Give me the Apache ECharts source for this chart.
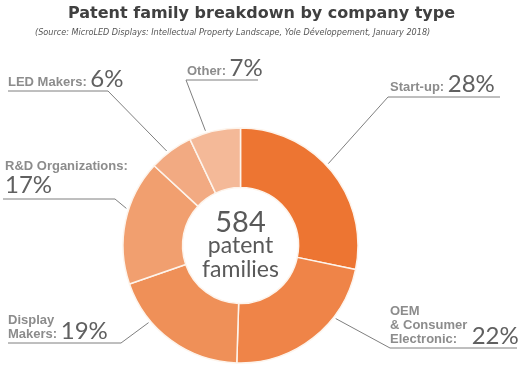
<!DOCTYPE html>
<html>
<head>
<meta charset="utf-8">
<script src="https://cdn.jsdelivr.net/npm/echarts@6/dist/echarts.min.js"></script>
<style>html,body{margin:0;padding:0;background:#fff;}#c{width:523px;height:369px;}</style>
</head>
<body>
<div id="c"></div>
<script>
// ---- data ----
const categories = ['Start-up', 'OEM & Consumer Electronic', 'Display Makers', 'R&D Organizations', 'LED Makers', 'Other'];
const values = [28, 22, 19, 17, 6, 7];
const labelNames = [['Start-up:'], ['OEM', '& Consumer', 'Electronic:'], ['Display', 'Makers:'], ['R&D Organizations:'], ['LED Makers:'], ['Other:']];
const totalFamilies = 584;
const centerLines = ['patent', 'families'];
const titleText = 'Patent family breakdown by company type';
const subtitleText = '(Source: MicroLED Displays: Intellectual Property Landscape, Yole Développement, January 2018)';

// ---- styles / layout ----
const colors = ['#ED7532', '#EF8448', '#EF9058', '#F19F6F', '#F2AA82', '#F4B998'];
const CX = 240.5, CY = 245.5, R0 = 58, R1 = 117.5;
const leaderAngle = [47, 127.5, 230, 288, 322, 343];
const leaderR = 120;
const spots = [
  {tx: 390, ty: 94, ex: 388, ey: 97, lx: 500, pctNewLine: false, gap: ' '},
  {tx: 390, ty: 346, ex: 390, ey: 348, lx: 517, pctNewLine: false, gap: '    '},
  {tx: 8, ty: 341, ex: 121, ey: 343, lx: 8, pctNewLine: false, gap: ' '},
  {tx: 5, ty: 197, ex: 115, ey: 199, lx: 3, pctNewLine: true, gap: ''},
  {tx: 8, ty: 89, ex: 108, ey: 91, lx: 8, pctNewLine: false, gap: ' '},
  {tx: 187, ty: 78, ex: 186, ey: 80, lx: 258, pctNewLine: false, gap: ' '}
];

const chart = echarts.init(document.getElementById('c'), null, {renderer: 'canvas'});

function labelText(i) {
  const names = labelNames[i];
  const s = spots[i];
  let lines = names.map(n => '{n|' + n + '}');
  if (s.pctNewLine) {
    lines.push('{q|' + values[i] + '%}');
  } else {
    lines[lines.length - 1] += '{n|' + s.gap + '}' + '{p|' + values[i] + '%}';
  }
  return lines.join('\n');
}

const option = {
  animation: false,
  backgroundColor: '#ffffff',
  title: [
    {
      text: titleText,
      left: 'center',
      top: 1,
      textStyle: {fontFamily: 'DejaVu Sans', fontWeight: 'bold', fontSize: 16, color: '#404040'}
    },
    {
      text: subtitleText,
      left: 30,
      top: 23,
      textStyle: {fontFamily: 'DejaVu Sans Condensed', fontStyle: 'italic', fontWeight: 'normal', fontSize: 9, color: '#555555'}
    }
  ],
  graphic: [
    {type: 'text', x: CX, y: 223, style: {text: String(totalFamilies), fill: '#595959', font: '29px Lato', textAlign: 'center', textVerticalAlign: 'middle'}},
    {type: 'text', x: CX, y: 246, style: {text: centerLines[0], fill: '#595959', font: '23px Lato', textAlign: 'center', textVerticalAlign: 'middle'}},
    {type: 'text', x: CX, y: 270, style: {text: centerLines[1], fill: '#595959', font: '23px Lato', textAlign: 'center', textVerticalAlign: 'middle'}}
  ],
  series: [{
    type: 'pie',
    center: [CX, CY],
    radius: [R0, R1],
    startAngle: 90,
    clockwise: true,
    silent: true,
    data: categories.map((c, i) => ({name: c, value: values[i], itemStyle: {color: colors[i]}})),
    itemStyle: {borderColor: '#FDF4EC', borderWidth: 1.5},
    label: {
      show: true,
      position: 'outside',
      overflow: 'none',
      formatter: p => labelText(p.dataIndex),
      rich: {
        n: {fontFamily: 'Liberation Sans', fontWeight: 'bold', fontSize: 13, color: '#8C8C8C', lineHeight: 14, verticalAlign: 'bottom'},
        p: {fontFamily: 'Lato', fontSize: 24, color: '#606060', lineHeight: 14, verticalAlign: 'bottom', padding: [0, 0, -2, 0]},
        q: {fontFamily: 'Lato', fontSize: 24, color: '#606060', lineHeight: 24, verticalAlign: 'bottom'}
      }
    },
    labelLine: {show: true, smooth: false, length: 10, length2: 10, lineStyle: {color: '#7F7F7F', width: 1}},
    labelLayout: function (params) {
      const i = params.dataIndex;
      const s = spots[i];
      const a = leaderAngle[i] * Math.PI / 180;
      const sx = CX + leaderR * Math.sin(a);
      const sy = CY - leaderR * Math.cos(a);
      return {
        x: s.tx, y: s.ty, align: 'left', verticalAlign: 'bottom',
        labelLinePoints: [[sx, sy], [s.ex, s.ey], [s.lx, s.ey]]
      };
    }
  }]
};
chart.setOption(option);
</script>
</body>
</html>
